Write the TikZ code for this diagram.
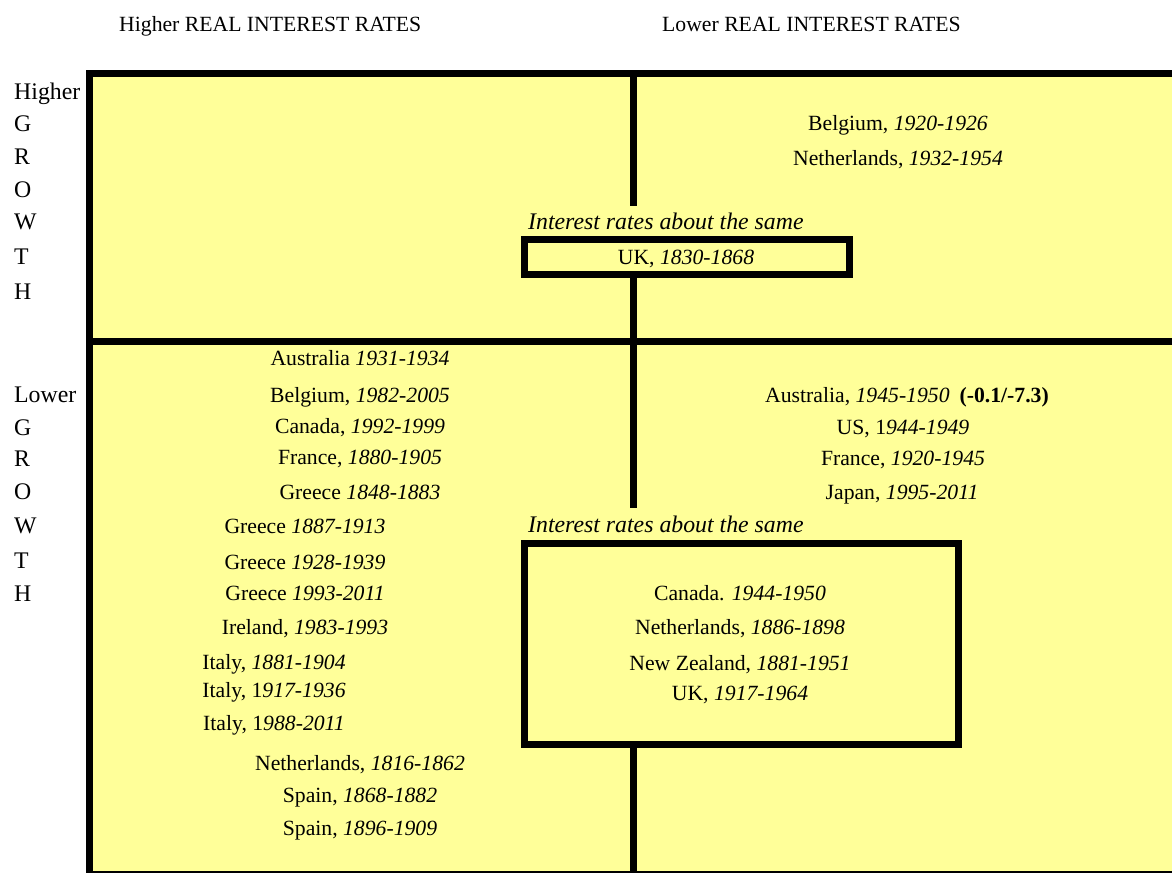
\documentclass[tikz,border=0pt]{standalone}
\usepackage{fontspec}
\setmainfont{Liberation Serif}
\definecolor{paper}{HTML}{FFFF99}
\begin{document}
\begin{tikzpicture}[x=1pt,y=-1pt,
  font=\fontsize{21.7}{26}\selectfont,
  lbl/.style={anchor=base west, inner sep=0pt},
  side/.style={anchor=base west, inner sep=0pt, font=\fontsize{23.8}{28}\selectfont},
  note/.style={anchor=base west, inner sep=0pt, font=\fontsize{23.8}{28}\selectfont\itshape},
  ent/.style={anchor=base, inner sep=0pt},
  bar/.style={line width=7pt, line cap=butt},
  boxstyle/.style={draw, line width=7pt, inner sep=0pt, fill=paper}]
\useasboundingbox (0,0) rectangle (1172,873);
% background
\fill[paper] (89.5,73.5) rectangle (1172,872);
% frame
\coordinate (tl) at (89.5,70);
\coordinate (bl) at (89.5,873);
\coordinate (tr) at (1172,73.5);
\coordinate (ml) at (86,341);
\coordinate (mr) at (1172,341);
\coordinate (bbl) at (86,872);
\coordinate (bbr) at (1172,872);
\draw[bar] (tl) -- (bl);
\draw[bar] (86,73.5) -- (tr);
\draw[bar] (ml) -- (mr);
\draw[line width=1.5pt] (bbl) -- (bbr);
% boxes
\node[boxstyle, minimum width=325pt, minimum height=35pt] (ukbox) at (687,257) {};
\node[boxstyle, minimum width=434pt, minimum height=201pt] (lowbox) at (741.5,644) {};
% vertical divider
\coordinate (v1) at (633.5,73.5);
\coordinate (v2) at (633.5,206);
\coordinate (v3) at (633.5,341);
\coordinate (v4) at (633.5,508);
\coordinate (v5) at (633.5,872);
\draw[bar] (v1) -- (v2);
\draw[bar] (ukbox.south -| v3) -- (v3);
\draw[bar] (v3) -- (v4);
\draw[bar] (lowbox.south -| v5) -- (v5);
% headers
\node[lbl] (hhi) at (119,31) {Higher REAL INTEREST RATES};
\node[lbl] (hlo) at (662,31) {Lower REAL INTEREST RATES};
% left labels upper
\node[side] (uh) at (14,99) {Higher};
\node[side] (ug) at (14,131) {G};
\node[side] (ur) at (14,164) {R};
\node[side] (uo) at (14,197) {O};
\node[side] (uw) at (14,229) {W};
\node[side] (ut) at (14,264) {T};
\node[side] (uhh) at (14,299) {H};
% left labels lower
\node[side] (ll) at (14,402) {Lower};
\node[side] (lg) at (14,435) {G};
\node[side] (lr) at (14,466) {R};
\node[side] (lo) at (14,499) {O};
\node[side] (lw) at (14,533) {W};
\node[side] (lt) at (14,568) {T};
\node[side] (lh) at (14,601) {H};
% upper right
\node[ent] (e1) at (898,130) {Belgium, \textit{1920-1926}};
\node[ent] (e2) at (898,165) {Netherlands, \textit{1932-1954}};
\node[note] (irs1) at (528,229) {Interest rates about the same};
\node[ent] (ukt) at (686,264) {UK, \textit{1830-1868}};
% lower left
\node[ent] (a1) at (360,365) {Australia \textit{1931-1934}};
\node[ent] (a2) at (360,402) {Belgium, \textit{1982-2005}};
\node[ent] (a3) at (360,433) {Canada, \textit{1992-1999}};
\node[ent] (a4) at (360,464) {France, \textit{1880-1905}};
\node[ent] (a5) at (360,499) {Greece \textit{1848-1883}};
\node[ent] (a6) at (305,533) {Greece \textit{1887-1913}};
\node[ent] (a7) at (305,569) {Greece \textit{1928-1939}};
\node[ent] (a8) at (305,600) {Greece \textit{1993-2011}};
\node[ent] (a9) at (305,634) {Ireland, \textit{1983-1993}};
\node[ent] (a10) at (274,669) {Italy, \textit{1881-1904}};
\node[ent] (a11) at (274,697) {Italy, 1\textit{917-1936}};
\node[ent] (a12) at (274,730) {Italy, 1\textit{988-2011}};
\node[ent] (a13) at (360,770) {Netherlands, \textit{1816-1862}};
\node[ent] (a14) at (360,802) {Spain, \textit{1868-1882}};
\node[ent] (a15) at (360,835) {Spain, \textit{1896-1909}};
% lower right
\node[lbl] (b1) at (765,402) {Australia, \textit{1945-1950}\hspace{10pt}\textbf{(-0.1/-7.3)}};
\node[ent] (b2) at (903,434) {US, 1\textit{944-1949}};
\node[ent] (b3) at (903,465) {France, \textit{1920-1945}};
\node[ent] (b4) at (902,499) {Japan, \textit{1995-2011}};
\node[note] (irs2) at (528,532) {Interest rates about the same};
\node[ent] (c1) at (740,600) {Canada. \textit{1944-1950}};
\node[ent] (c2) at (740,634) {Netherlands, \textit{1886-1898}};
\node[ent] (c3) at (740,670) {New Zealand, \textit{1881-1951}};
\node[ent] (c4) at (740,700) {UK, \textit{1917-1964}};
\end{tikzpicture}
\end{document}
